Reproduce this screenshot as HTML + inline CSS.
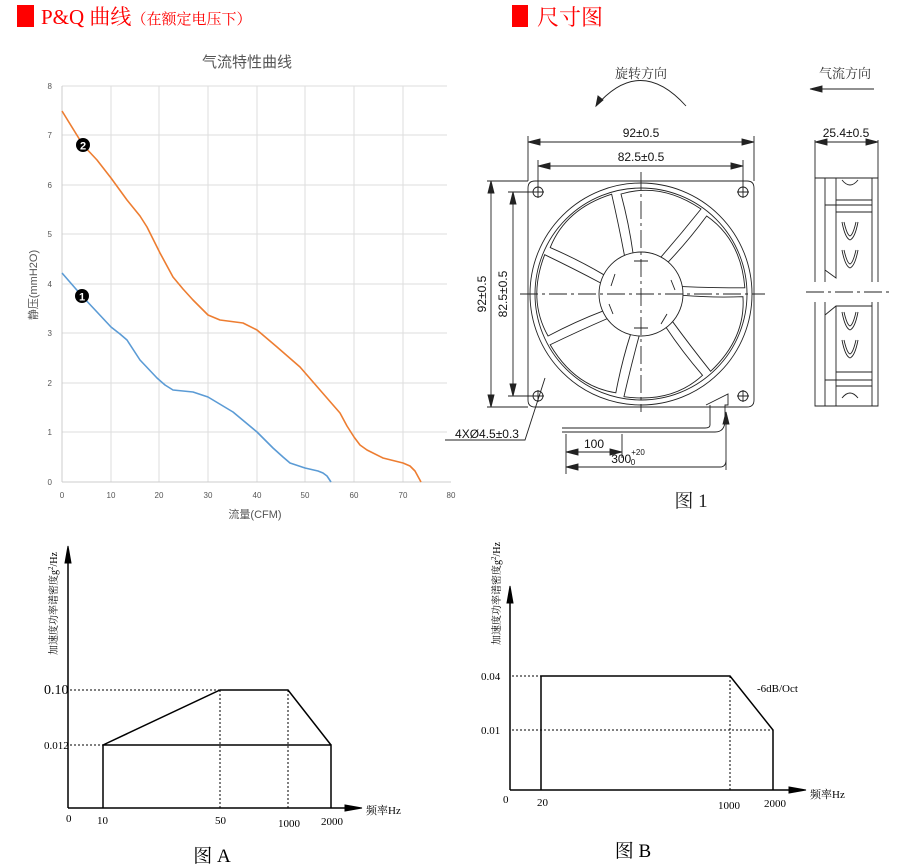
<!DOCTYPE html>
<html><head><meta charset="utf-8"><style>
html,body{margin:0;padding:0;background:#fff;width:900px;height:866px;overflow:hidden}
svg{display:block}
</style></head><body>
<svg width="900" height="866" viewBox="0 0 900 866" xmlns="http://www.w3.org/2000/svg" font-family="Liberation Sans, Noto Sans CJK SC, sans-serif">
<rect x="17" y="5" width="17" height="22" fill="#f00"/>
<text x="41" y="24" font-family="Liberation Serif, Noto Serif CJK SC, serif" font-size="21" fill="#f00">P&amp;Q 曲线<tspan font-size="15">（在额定电压下）</tspan></text>
<rect x="512" y="5" width="16" height="22" fill="#f00"/>
<text x="537" y="25" font-family="Liberation Serif, Noto Serif CJK SC, serif" font-size="22" fill="#f00">尺寸图</text>

<text x="247" y="67" font-size="15" fill="#555" text-anchor="middle">气流特性曲线</text>
<g stroke="#ddd" stroke-width="1">
<line x1="62" y1="86" x2="447" y2="86"/><line x1="62" y1="135" x2="447" y2="135"/><line x1="62" y1="185" x2="447" y2="185"/><line x1="62" y1="234" x2="447" y2="234"/><line x1="62" y1="284" x2="447" y2="284"/><line x1="62" y1="333" x2="447" y2="333"/><line x1="62" y1="383" x2="447" y2="383"/><line x1="62" y1="432" x2="447" y2="432"/>
<line x1="111" y1="86" x2="111" y2="482"/><line x1="159" y1="86" x2="159" y2="482"/><line x1="208" y1="86" x2="208" y2="482"/><line x1="257" y1="86" x2="257" y2="482"/><line x1="305" y1="86" x2="305" y2="482"/><line x1="354" y1="86" x2="354" y2="482"/><line x1="403" y1="86" x2="403" y2="482"/>
</g>
<line x1="62" y1="86" x2="62" y2="482" stroke="#ccc"/>
<line x1="62" y1="482" x2="451" y2="482" stroke="#ccc"/>
<g font-size="8" fill="#555" text-anchor="end">
<text x="52" y="89">8</text><text x="52" y="138">7</text><text x="52" y="188">6</text><text x="52" y="237">5</text><text x="52" y="287">4</text><text x="52" y="336">3</text><text x="52" y="386">2</text><text x="52" y="435">1</text><text x="52" y="485">0</text>
</g>
<g font-size="8" fill="#555" text-anchor="middle">
<text x="62" y="498">0</text><text x="111" y="498">10</text><text x="159" y="498">20</text><text x="208" y="498">30</text><text x="257" y="498">40</text><text x="305" y="498">50</text><text x="354" y="498">60</text><text x="403" y="498">70</text><text x="451" y="498">80</text>
</g>
<text x="255" y="518" font-size="11" fill="#555" text-anchor="middle">流量(CFM)</text>
<text transform="translate(37,285) rotate(-90)" font-size="11" fill="#555" text-anchor="middle">静压(mmH2O)</text>
<polyline fill="none" stroke="#ed7d31" stroke-width="1.6" stroke-linejoin="round" points="62,111 83,145 97,160 111,178 127,200 140,216 147,227 153,239 160,253 173,277 183,289 193,300 208,315 220,320 243,323 257,330 277,347 300,367 320,390 340,413 347,426 354,437 360,445 367,450 383,458 403,463 410,466 415,471 421,482"/>
<polyline fill="none" stroke="#5b9bd5" stroke-width="1.6" stroke-linejoin="round" points="62,273 82,296 97,312 111,327 120,334 127,340 140,360 157,378 165,385 173,390 193,392 208,397 233,412 257,432 273,448 283,457 290,463 305,468 318,471 323,473 327,476 331,482"/>
<circle cx="83" cy="145" r="7" fill="#000"/><text x="83" y="149.5" font-size="11" font-weight="bold" fill="#fff" text-anchor="middle">2</text>
<circle cx="82" cy="296" r="7" fill="#000"/><text x="82" y="300.5" font-size="11" font-weight="bold" fill="#fff" text-anchor="middle">1</text>

<g stroke="#222" stroke-width="0.9" fill="none">
<text x="641" y="78" font-family="Liberation Serif, Noto Serif CJK SC, serif" font-size="13" fill="#333" stroke="none" text-anchor="middle">旋转方向</text>
<path d="M596,106 Q640,55 686,106"/>
<polygon points="596,106 598,96 603,100" fill="#222"/>
<text x="845" y="78" font-family="Liberation Serif, Noto Serif CJK SC, serif" font-size="13" fill="#333" stroke="none" text-anchor="middle">气流方向</text>
<line x1="812" y1="89" x2="874" y2="89"/><polygon points="810,89 822,86 822,92" fill="#222"/>

<path d="M535,181 H747 Q754,181 754,188 V400 Q754,407 747,407 H535 Q528,407 528,400 V188 Q528,181 535,181 Z"/>
<circle cx="641" cy="294" r="111"/>
<circle cx="641" cy="294" r="106"/>
<circle cx="641" cy="294" r="42"/>
<circle cx="538" cy="192" r="5"/><circle cx="743" cy="192" r="5"/><circle cx="538" cy="396" r="5"/><circle cx="743" cy="396" r="5"/>
<path d="M532,192h12M538,186v12M737,192h12M743,186v12M532,396h12M538,390v12M737,396h12M743,390v12"/>
<g transform="translate(641,294)">
<path id="bl" d="M-8,-41 Q-12,-70 -20,-100 Q20,-112 60,-85 Q40,-60 20,-37"/>
<use href="#bl" transform="rotate(51.4)"/>
<use href="#bl" transform="rotate(102.8)"/>
<use href="#bl" transform="rotate(154.2)"/>
<use href="#bl" transform="rotate(205.6)"/>
<use href="#bl" transform="rotate(257)"/>
<use href="#bl" transform="rotate(308.4)"/>
<path d="M-7,-33h14M30,-14l4,10M26,20l-6,10M-7,34h14M-28,20l-4,-10M-30,-8l4,-12"/>
</g>
<path d="M641,172V412M520,294H765" stroke-dasharray="18,4,3,4"/>
<path d="M528,181V136M754,181V136M538,192V160M743,192V160"/>
<path d="M530,142H752M540,166H741"/>
<polygon points="528,142 540,139 540,145" fill="#222"/><polygon points="754,142 742,139 742,145" fill="#222"/>
<polygon points="538,166 550,163 550,169" fill="#222"/><polygon points="743,166 731,163 731,169" fill="#222"/>
<path d="M528,181H487M528,407H487M538,192H508M538,396H508"/>
<path d="M491,183V405M513,194V394"/>
<polygon points="491,181 488,193 494,193" fill="#222"/><polygon points="491,407 488,395 494,395" fill="#222"/>
<polygon points="513,192 510,204 516,204" fill="#222"/><polygon points="513,396 510,384 516,384" fill="#222"/>
<path d="M545,378L525,440H445"/>
<path d="M706,405L728,394V405H725V420Q725,432 715,432H562M710,405V425Q710,428 705,428H562"/>
<path d="M726,470V416"/><polygon points="726,412 723,424 729,424" fill="#222"/>
<path d="M566,434V474M622,434V458M566,452H622M566,467H720Q726,467 726,460"/>
<polygon points="566,452 578,449 578,455" fill="#222"/><polygon points="622,452 610,449 610,455" fill="#222"/>
<polygon points="566,467 578,464 578,470" fill="#222"/>
<path d="M815,140V178M878,140V178M817,142H876"/>
<polygon points="815,142 827,139 827,145" fill="#222"/><polygon points="878,142 866,139 866,145" fill="#222"/>
<path d="M815,178H878V406H815Z"/>
<path d="M825,178V406M872,178V406M836,178V278L825,270V205H872M836,306V406M825,315L836,306H872M825,380H872M836,200H872M836,212H872M836,372H872M836,386H872"/>
<path d="M842,222q3,16 8,18q5,-2 8,-18M844,222q3,13 6,14q3,-1 6,-14M842,250q3,16 8,18q5,-2 8,-18M844,250q3,13 6,14q3,-1 6,-14M842,312q3,16 8,18q5,-2 8,-18M844,312q3,13 6,14q3,-1 6,-14M842,340q3,16 8,18q5,-2 8,-18M844,340q3,13 6,14q3,-1 6,-14M842,180q8,10 16,0M842,398q8,-10 16,0"/>
<path d="M806,292H890" stroke="#fff" stroke-width="20"/>
<path d="M806,292H890" stroke-dasharray="18,4,3,4"/>
</g>
<g font-size="12" fill="#111" text-anchor="middle">
<text x="641" y="137">92±0.5</text>
<text x="641" y="161">82.5±0.5</text>
<text transform="translate(486,294) rotate(-90)">92±0.5</text>
<text transform="translate(507,294) rotate(-90)">82.5±0.5</text>
<text x="846" y="137">25.4±0.5</text>
<text x="594" y="448">100</text>
<text x="487" y="438">4XØ4.5±0.3</text>
<text x="628" y="463">300<tspan font-size="8" dy="-8">+20</tspan><tspan font-size="8" dx="-14" dy="10">0</tspan></text>
</g>
<text x="691" y="507" font-family="Liberation Serif, Noto Serif CJK SC, serif" font-size="19" fill="#222" text-anchor="middle">图 1</text>

<g stroke="#000" fill="none">
<line x1="68" y1="553" x2="68" y2="808" stroke-width="1.5"/>
<polygon points="68,546 65,563 71,563" fill="#000"/>
<line x1="68" y1="808" x2="350" y2="808" stroke-width="1.5"/>
<polygon points="362,808 345,805 345,811" fill="#000"/>
<path d="M103,808V745H331V808M103,745L220,690H288L331,745" stroke-width="1.5"/>
<path d="M70,690H220M70,745H103M220,690V808M288,690V808" stroke-dasharray="2,2"/>
</g>
<g font-family="Liberation Serif, Noto Serif CJK SC, serif" fill="#000" font-size="11">
<text x="44" y="694" font-size="14">0.10</text>
<text x="44" y="749">0.012</text>
<text x="66" y="822">0</text><text x="97" y="824">10</text><text x="215" y="824">50</text><text x="278" y="827">1000</text><text x="321" y="825">2000</text>
<text x="366" y="814">频率Hz</text>
<text transform="translate(57,655) rotate(-90)" font-size="10">加速度功率谱密度g<tspan font-size="7" dy="-4">2</tspan><tspan dy="4">/Hz</tspan></text>
<text x="212" y="862" font-size="19" text-anchor="middle">图 A</text>
</g>

<g stroke="#000" fill="none">
<line x1="510" y1="594" x2="510" y2="790" stroke-width="1.5"/>
<polygon points="510,586 507,603 513,603" fill="#000"/>
<line x1="510" y1="790" x2="795" y2="790" stroke-width="1.5"/>
<polygon points="806,790 789,787 789,793" fill="#000"/>
<path d="M541,790V676H730L773,730V790" stroke-width="1.5"/>
<path d="M512,676H541M512,730H773M730,676V790" stroke-dasharray="2,2"/>
</g>
<g font-family="Liberation Serif, Noto Serif CJK SC, serif" fill="#000" font-size="11">
<text x="481" y="680">0.04</text>
<text x="481" y="734">0.01</text>
<text x="503" y="803">0</text><text x="537" y="806">20</text><text x="718" y="809">1000</text><text x="764" y="807">2000</text>
<text x="810" y="798">频率Hz</text>
<text x="757" y="692">-6dB/Oct</text>
<text transform="translate(500,645) rotate(-90)" font-size="10">加速度功率谱密度g<tspan font-size="7" dy="-4">2</tspan><tspan dy="4">/Hz</tspan></text>
<text x="633" y="857" font-size="19" text-anchor="middle">图 B</text>
</g>
</svg>
</body></html>
